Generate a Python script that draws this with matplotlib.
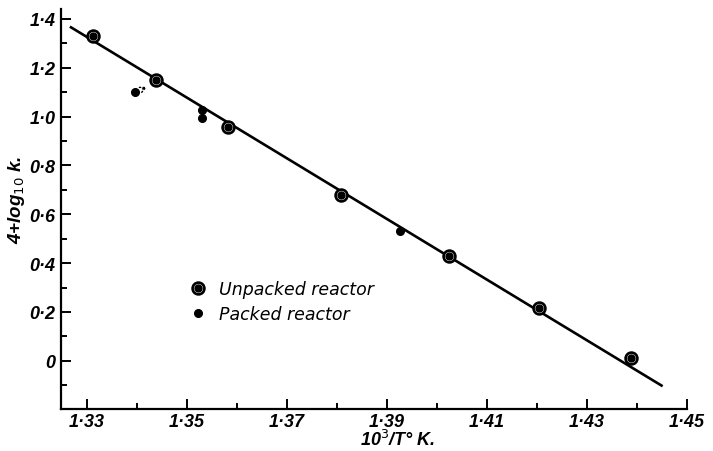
import numpy as np
import matplotlib
matplotlib.use('Agg')
import matplotlib.pyplot as plt
from matplotlib.lines import Line2D
from matplotlib.ticker import FixedLocator, FixedFormatter, MultipleLocator

plt.rcParams['font.family'] = ['Liberation Sans', 'DejaVu Sans']

# unpacked reactor (ringed points)
unpacked_x = [1.3312, 1.3438, 1.3582, 1.3808, 1.4023, 1.4204, 1.4387]
unpacked_y = [1.328, 1.148, 0.959, 0.677, 0.429, 0.216, 0.012]

# packed reactor (solid dots)
packed_x = [1.3395, 1.3530, 1.3530, 1.3926]
packed_y = [1.101, 1.026, 0.995, 0.530]

# fitted straight line
line_x = [1.3268, 1.4449]
line_y = [1.365, -0.101]

xticks = [1.33, 1.35, 1.37, 1.39, 1.41, 1.43, 1.45]
xticklabels = ['1·33', '1·35', '1·37', '1·39', '1·41', '1·43', '1·45']
yticks = [0, 0.2, 0.4, 0.6, 0.8, 1.0, 1.2, 1.4]
yticklabels = ['0', '0·2', '0·4', '0·6', '0·8', '1·0', '1·2', '1·4']

fig = plt.figure(figsize=(7.13, 4.52), dpi=100)
ax = fig.add_axes([61/713, 42/452, 626/713, 400/452])

ax.plot(line_x, line_y, color='black', lw=1.9, zorder=2)

ax.plot(unpacked_x, unpacked_y, 'o', ms=8.5, mfc='white', mec='black', mew=1.9, zorder=3)
ax.plot(unpacked_x, unpacked_y, 'o', ms=5, mfc='black', mec='black', zorder=4)
ax.plot(packed_x, packed_y, 'o', ms=5.5, color='black', zorder=4)

# little dotted arrow from the low packed point
ax.annotate('', xy=(1.3425, 1.126), xytext=(1.3406, 1.108),
            arrowprops=dict(arrowstyle='->', linestyle=':', lw=1.0, color='black'))

ax.set_xlim(1.3248, 1.45)
ax.set_ylim(-0.197, 1.44)

ax.spines['top'].set_visible(False)
ax.spines['right'].set_visible(False)
ax.spines['left'].set_linewidth(1.6)
ax.spines['bottom'].set_linewidth(1.6)

ax.xaxis.set_major_locator(FixedLocator(xticks))
ax.xaxis.set_major_formatter(FixedFormatter(xticklabels))
ax.xaxis.set_minor_locator(MultipleLocator(0.01))
ax.yaxis.set_major_locator(FixedLocator(yticks))
ax.yaxis.set_major_formatter(FixedFormatter(yticklabels))
ax.yaxis.set_minor_locator(MultipleLocator(0.1))

ax.tick_params(which='both', direction='in', width=1.4)
ax.tick_params(which='major', length=7, labelsize=13, pad=4)
ax.tick_params(axis='x', which='major', pad=3)
ax.tick_params(which='minor', length=4)
for lab in ax.get_xticklabels() + ax.get_yticklabels():
    lab.set_fontstyle('italic')
    lab.set_fontweight('bold')

ax.set_xlabel('10$^{3}$/T° K.', fontsize=13, fontstyle='italic', fontweight='bold',
              va='bottom')
ax.xaxis.set_label_coords((398 - 61) / 626, -0.1)
ax.set_ylabel('4+log$_{10}$ k.', fontsize=13.5, fontstyle='italic', fontweight='bold',
              va='center')
ax.yaxis.set_label_coords((17 - 61) / 626, 0.525)

h_un = (Line2D([], [], ls='none', marker='o', ms=8.5, mfc='white', mec='black', mew=1.9),
        Line2D([], [], ls='none', marker='o', ms=5, mfc='black', mec='black'))
h_pk = Line2D([], [], ls='none', marker='o', ms=5.5, color='black')
ax.legend([h_un, h_pk], ['Unpacked reactor', 'Packed reactor'],
          loc='upper left', bbox_to_anchor=((174 - 61) / 626, (410 - 265) / 400),
          frameon=False, handlelength=1.0, handletextpad=0.7, labelspacing=0.45,
          prop=dict(family='DejaVu Sans', size=12.5, style='italic'))

fig.savefig('out.png', dpi=100)
